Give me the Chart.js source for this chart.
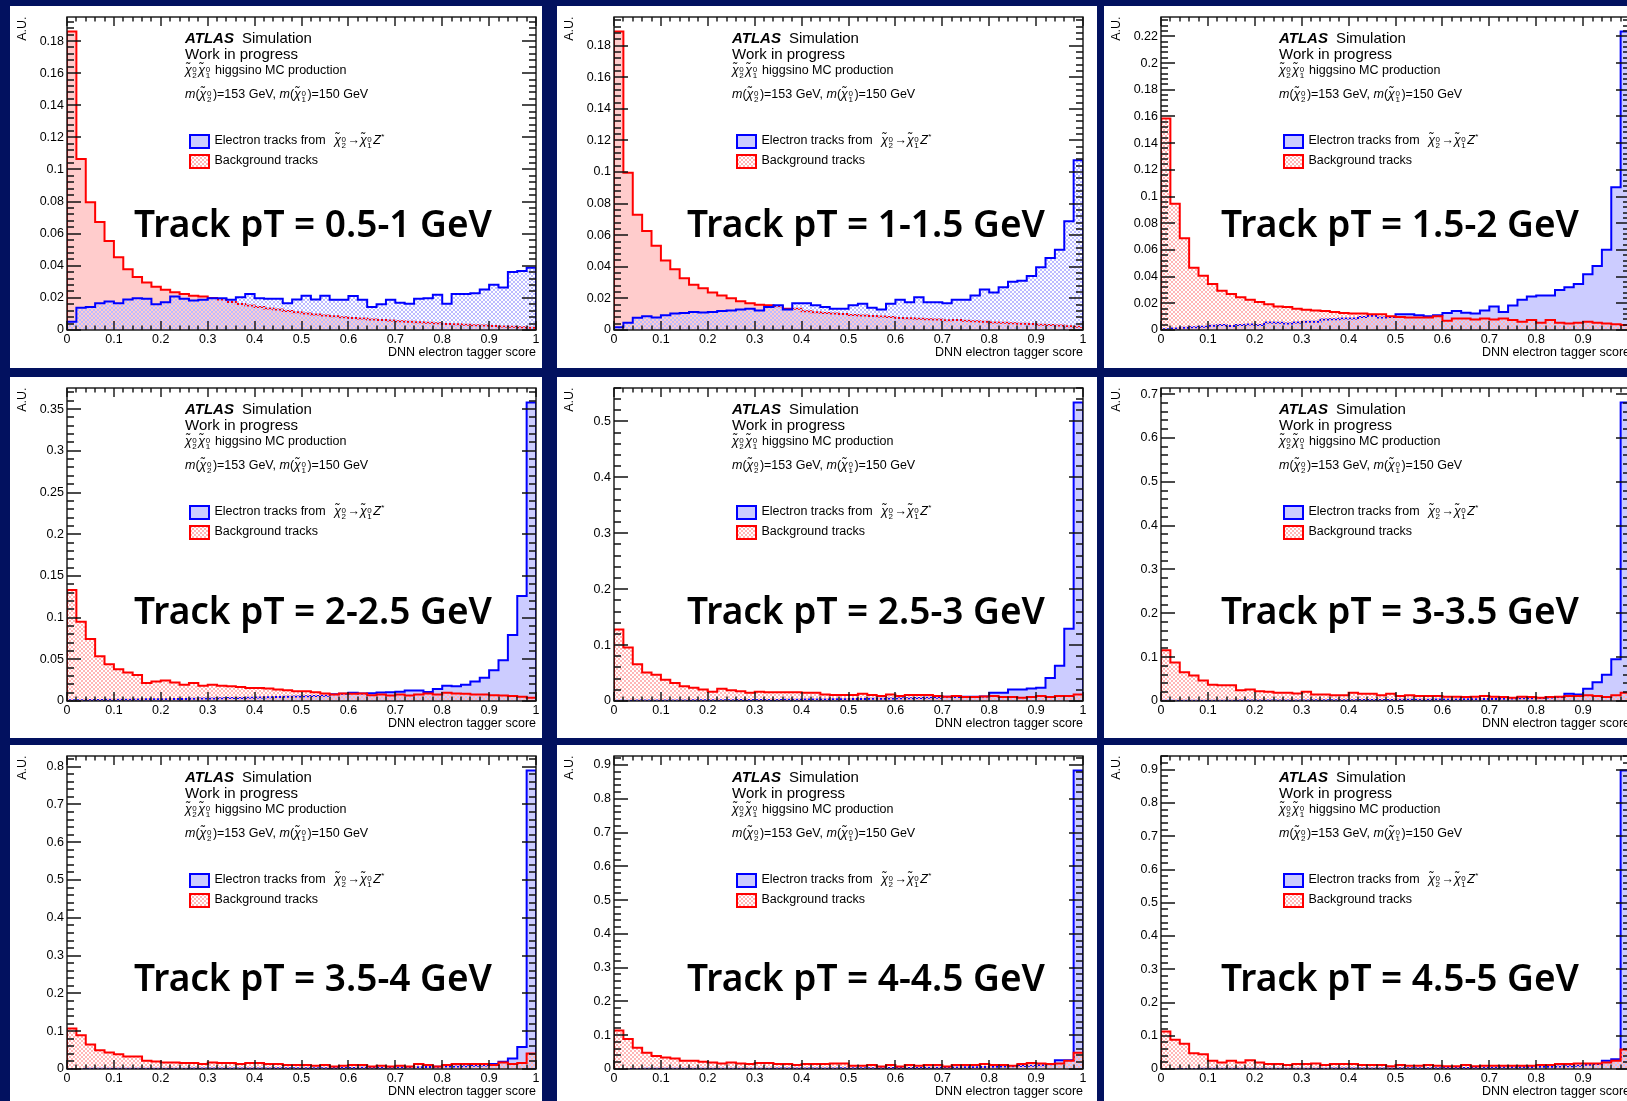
<!DOCTYPE html>
<html>
<head>
<meta charset="utf-8">
<script src="https://cdn.jsdelivr.net/npm/chart.js@4.4.0/dist/chart.umd.min.js"></script>
<style>
  html, body { margin: 0; padding: 0; }
  body { width: 1627px; height: 1101px; overflow: hidden; position: relative; background: #02115f;
         font-family: "Liberation Sans", Arial, Helvetica, sans-serif; }
  .panel { position: absolute; background: #fff; overflow: hidden; }
  .panel canvas { position: absolute; left: 0; top: 0; }
  .txt { position: absolute; white-space: nowrap; line-height: 1; color: #000; }
  .chi { font-style: italic; }
  .sup, .sub { font-size: 8px; position: relative; }
  .sup { top: -2.8px; margin-left: 0.5px; }
  .sub { top: 3.3px; margin-left: -4.45px; margin-right: 1.5px; }
  .swatch { position: absolute; box-sizing: border-box; border: 2px solid; }
  .big { position: absolute; white-space: nowrap; line-height: 1; font-family: "Noto Sans", sans-serif;
         font-weight: 600; font-size: 37px; color: #000; transform: translateX(-50%); }
</style>
</head>
<body>
<script>
// track pT slices, one panel per slice
const ptSlices = ['0.5-1', '1-1.5', '1.5-2', '2-2.5', '2.5-3', '3-3.5', '3.5-4', '4-4.5', '4.5-5'];
// spacing of the labelled y ticks in each panel
const yTickSteps = [0.02, 0.02, 0.02, 0.05, 0.1, 0.1, 0.1, 0.1, 0.1];

// normalised DNN score distributions, 50 bins of 0.02 from 0 to 1
const sig_0p5_1 = [0.0051, 0.0139, 0.0143, 0.0167, 0.0178, 0.0167, 0.0190, 0.0198, 0.0194, 0.0160,
  0.0173, 0.0208, 0.0194, 0.0184, 0.0188, 0.0198, 0.0198, 0.0188, 0.0204, 0.0224,
  0.0198, 0.0194, 0.0194, 0.0167, 0.0190, 0.0214, 0.0190, 0.0214, 0.0188, 0.0188,
  0.0212, 0.0188, 0.0143, 0.0160, 0.0188, 0.0170, 0.0163, 0.0194, 0.0198, 0.0220,
  0.0163, 0.0224, 0.0224, 0.0229, 0.0253, 0.0282, 0.0265, 0.0362, 0.0367, 0.0388];
const bkg_0p5_1 = [0.186, 0.1065, 0.0796, 0.0673, 0.0555, 0.0453, 0.0378, 0.0330, 0.0296, 0.0270,
  0.0250, 0.0235, 0.0224, 0.0214, 0.0208, 0.0200, 0.0190, 0.0175, 0.0162, 0.0152,
  0.0143, 0.0134, 0.0127, 0.0119, 0.0111, 0.0103, 0.0097, 0.0090, 0.0086, 0.0080,
  0.0075, 0.0071, 0.0066, 0.0063, 0.0059, 0.0055, 0.0052, 0.0048, 0.0045, 0.0042,
  0.0038, 0.0036, 0.0033, 0.0030, 0.0028, 0.0025, 0.0022, 0.0020, 0.0017, 0.0014];

const sig_1_1p5 = [0.0017, 0.0046, 0.0077, 0.0087, 0.0079, 0.0093, 0.0104, 0.0108, 0.0114, 0.0110,
  0.0114, 0.0120, 0.0124, 0.0129, 0.0135, 0.0124, 0.0145, 0.0156, 0.0129, 0.0170,
  0.0170, 0.0156, 0.0145, 0.0135, 0.0135, 0.0156, 0.0166, 0.0141, 0.0129, 0.0166,
  0.0191, 0.0176, 0.0207, 0.0176, 0.0176, 0.0170, 0.0191, 0.0191, 0.0218, 0.0257,
  0.0238, 0.0270, 0.0305, 0.0311, 0.0342, 0.0398, 0.0456, 0.0508, 0.0689, 0.1074];
const bkg_1_1p5 = [0.189, 0.0995, 0.0730, 0.0626, 0.0533, 0.0440, 0.0384, 0.0328, 0.0286, 0.0265,
  0.0238, 0.0218, 0.0201, 0.0182, 0.0170, 0.0160, 0.0156, 0.0150, 0.0135, 0.0135,
  0.0118, 0.0112, 0.0108, 0.0104, 0.0101, 0.0095, 0.0092, 0.0088, 0.0085, 0.0082,
  0.0076, 0.0074, 0.0071, 0.0068, 0.0066, 0.0062, 0.0063, 0.0058, 0.0055, 0.0052,
  0.0048, 0.0046, 0.0043, 0.0040, 0.0038, 0.0034, 0.0031, 0.0028, 0.0024, 0.0021];

const sig_1p5_2 = [0.0005, 0.0012, 0.0017, 0.0020, 0.0025, 0.0032, 0.0037, 0.0030, 0.0037, 0.0042,
  0.0037, 0.0057, 0.0054, 0.0049, 0.0057, 0.0061, 0.0061, 0.0079, 0.0081, 0.0086,
  0.0086, 0.0098, 0.0106, 0.0093, 0.0098, 0.0118, 0.0118, 0.0110, 0.0103, 0.0110,
  0.0128, 0.0143, 0.0130, 0.0123, 0.0147, 0.0177, 0.0135, 0.0184, 0.0226, 0.0251,
  0.0258, 0.0258, 0.0300, 0.0320, 0.0344, 0.0418, 0.0479, 0.0602, 0.1070, 0.2237];
const bkg_1p5_2 = [0.1585, 0.0946, 0.0688, 0.0467, 0.0406, 0.0344, 0.0295, 0.0270, 0.0246, 0.0226,
  0.0209, 0.0192, 0.0177, 0.0172, 0.0160, 0.0152, 0.0147, 0.0143, 0.0135, 0.0128,
  0.0123, 0.0123, 0.0118, 0.0118, 0.0103, 0.0098, 0.0093, 0.0093, 0.0093, 0.0103,
  0.0069, 0.0086, 0.0086, 0.0079, 0.0086, 0.0079, 0.0086, 0.0074, 0.0061, 0.0074,
  0.0054, 0.0074, 0.0054, 0.0049, 0.0054, 0.0061, 0.0054, 0.0049, 0.0044, 0.0037];

const sig_2_2p5 = [0.0008, 0.0010, 0.0012, 0.0012, 0.0014, 0.0016, 0.0016, 0.0018, 0.0020, 0.0020,
  0.0022, 0.0024, 0.0024, 0.0027, 0.0029, 0.0030, 0.0033, 0.0035, 0.0037, 0.0039,
  0.0043, 0.0045, 0.0047, 0.0050, 0.0055, 0.0057, 0.0060, 0.0062, 0.0082, 0.0086,
  0.0098, 0.0090, 0.0094, 0.0102, 0.0106, 0.0110, 0.0125, 0.0125, 0.0109, 0.0145,
  0.0184, 0.0176, 0.0196, 0.0235, 0.0280, 0.0370, 0.0490, 0.0790, 0.1260, 0.3580];
const bkg_2_2p5 = [0.133, 0.0951, 0.0744, 0.0536, 0.0442, 0.0380, 0.0341, 0.0313, 0.0215, 0.0235,
  0.0247, 0.0223, 0.0196, 0.0215, 0.0184, 0.0196, 0.0184, 0.0176, 0.0168, 0.0157,
  0.0157, 0.0149, 0.0137, 0.0129, 0.0117, 0.0117, 0.0106, 0.0090, 0.0078, 0.0090,
  0.0086, 0.0090, 0.0070, 0.0078, 0.0067, 0.0078, 0.0067, 0.0078, 0.0090, 0.0078,
  0.0098, 0.0090, 0.0086, 0.0078, 0.0078, 0.0070, 0.0067, 0.0059, 0.0051, 0.0039];

const sig_2p5_3 = [0.0005, 0.0006, 0.0007, 0.0008, 0.0009, 0.0010, 0.0010, 0.0011, 0.0012, 0.0012,
  0.0013, 0.0014, 0.0015, 0.0016, 0.0017, 0.0018, 0.0019, 0.0020, 0.0022, 0.0023,
  0.0025, 0.0026, 0.0028, 0.0030, 0.0032, 0.0034, 0.0036, 0.0039, 0.0041, 0.0044,
  0.0047, 0.0050, 0.0053, 0.0057, 0.0060, 0.0076, 0.0070, 0.0076, 0.0076, 0.0082,
  0.0147, 0.0147, 0.0205, 0.0205, 0.0225, 0.0235, 0.0410, 0.0630, 0.1290, 0.5340];
const bkg_2p5_3 = [0.128, 0.0957, 0.0657, 0.0510, 0.0470, 0.0381, 0.0323, 0.0264, 0.0235, 0.0205,
  0.0164, 0.0217, 0.0194, 0.0176, 0.0147, 0.0164, 0.0158, 0.0158, 0.0158, 0.0158,
  0.0147, 0.0147, 0.0117, 0.0106, 0.0106, 0.0106, 0.0129, 0.0106, 0.0088, 0.0117,
  0.0088, 0.0106, 0.0106, 0.0106, 0.0088, 0.0076, 0.0088, 0.0070, 0.0070, 0.0082,
  0.0088, 0.0070, 0.0070, 0.0059, 0.0070, 0.0088, 0.0070, 0.0088, 0.0088, 0.0117];

const sig_3_3p5 = [0.0003, 0.0004, 0.0005, 0.0005, 0.0006, 0.0007, 0.0007, 0.0008, 0.0009, 0.0009,
  0.0010, 0.0011, 0.0012, 0.0012, 0.0013, 0.0014, 0.0015, 0.0016, 0.0017, 0.0018,
  0.0019, 0.0020, 0.0021, 0.0023, 0.0024, 0.0026, 0.0027, 0.0029, 0.0031, 0.0033,
  0.0035, 0.0037, 0.0040, 0.0042, 0.0045, 0.0048, 0.0052, 0.0056, 0.0060, 0.0064,
  0.0070, 0.0078, 0.0090, 0.0164, 0.0149, 0.0280, 0.0430, 0.0600, 0.0950, 0.681];
const bkg_3_3p5 = [0.116, 0.0880, 0.0657, 0.0583, 0.0470, 0.0373, 0.0358, 0.0358, 0.0246, 0.0261,
  0.0224, 0.0209, 0.0187, 0.0187, 0.0172, 0.0209, 0.0149, 0.0149, 0.0134, 0.0134,
  0.0187, 0.0164, 0.0164, 0.0134, 0.0164, 0.0112, 0.0134, 0.0112, 0.0112, 0.0112,
  0.0097, 0.0097, 0.0090, 0.0097, 0.0112, 0.0097, 0.0090, 0.0075, 0.0097, 0.0090,
  0.0075, 0.0090, 0.0097, 0.0112, 0.0112, 0.0134, 0.0112, 0.0090, 0.0134, 0.0187];

const sig_3p5_4 = [0.0003, 0.0003, 0.0004, 0.0004, 0.0005, 0.0005, 0.0006, 0.0006, 0.0007, 0.0007,
  0.0008, 0.0008, 0.0009, 0.0010, 0.0010, 0.0011, 0.0012, 0.0013, 0.0013, 0.0014,
  0.0015, 0.0016, 0.0017, 0.0018, 0.0019, 0.0021, 0.0022, 0.0023, 0.0025, 0.0027,
  0.0029, 0.0031, 0.0033, 0.0036, 0.0039, 0.0042, 0.0045, 0.0049, 0.0053, 0.0058,
  0.0063, 0.0069, 0.0076, 0.0083, 0.0092, 0.0130, 0.0190, 0.0280, 0.0580, 0.790];
const bkg_3p5_4 = [0.107, 0.0894, 0.0651, 0.0495, 0.0434, 0.0391, 0.0330, 0.0330, 0.0217, 0.0200,
  0.0174, 0.0174, 0.0156, 0.0156, 0.0130, 0.0174, 0.0156, 0.0156, 0.0130, 0.0156,
  0.0156, 0.0130, 0.0130, 0.0104, 0.0104, 0.0104, 0.0087, 0.0104, 0.0069, 0.0087,
  0.0104, 0.0104, 0.0069, 0.0087, 0.0069, 0.0087, 0.0069, 0.0130, 0.0104, 0.0069,
  0.0104, 0.0130, 0.0130, 0.0130, 0.0130, 0.0104, 0.0174, 0.0130, 0.0156, 0.0408];

const sig_4_4p5 = [0.0002, 0.0003, 0.0003, 0.0004, 0.0004, 0.0005, 0.0005, 0.0006, 0.0006, 0.0007,
  0.0007, 0.0008, 0.0008, 0.0009, 0.0010, 0.0010, 0.0011, 0.0012, 0.0013, 0.0014,
  0.0015, 0.0016, 0.0017, 0.0018, 0.0019, 0.0020, 0.0022, 0.0023, 0.0025, 0.0027,
  0.0029, 0.0031, 0.0033, 0.0036, 0.0039, 0.0042, 0.0046, 0.0050, 0.0055, 0.0060,
  0.0066, 0.0072, 0.0079, 0.0086, 0.0094, 0.0110, 0.0140, 0.0260, 0.0260, 0.884];
const bkg_4_4p5 = [0.114, 0.0889, 0.0628, 0.0483, 0.0386, 0.0338, 0.0309, 0.0242, 0.0242, 0.0213,
  0.0193, 0.0164, 0.0193, 0.0164, 0.0145, 0.0174, 0.0174, 0.0145, 0.0145, 0.0116,
  0.0145, 0.0145, 0.0145, 0.0164, 0.0164, 0.0097, 0.0097, 0.0116, 0.0077, 0.0116,
  0.0077, 0.0116, 0.0097, 0.0116, 0.0116, 0.0077, 0.0116, 0.0116, 0.0116, 0.0145,
  0.0116, 0.0116, 0.0097, 0.0145, 0.0174, 0.0164, 0.0145, 0.0164, 0.0242, 0.0483];

const sig_4p5_5 = [0.0002, 0.0002, 0.0003, 0.0003, 0.0004, 0.0004, 0.0005, 0.0005, 0.0006, 0.0006,
  0.0007, 0.0007, 0.0008, 0.0008, 0.0009, 0.0010, 0.0010, 0.0011, 0.0012, 0.0013,
  0.0014, 0.0015, 0.0016, 0.0017, 0.0018, 0.0019, 0.0021, 0.0022, 0.0024, 0.0026,
  0.0028, 0.0030, 0.0032, 0.0035, 0.0038, 0.0041, 0.0045, 0.0049, 0.0054, 0.0059,
  0.0065, 0.0071, 0.0078, 0.0086, 0.0095, 0.0125, 0.0150, 0.0245, 0.0290, 0.898];
const bkg_4p5_5 = [0.113, 0.0883, 0.0756, 0.0471, 0.0442, 0.0245, 0.0196, 0.0245, 0.0196, 0.0265,
  0.0196, 0.0147, 0.0147, 0.0118, 0.0147, 0.0147, 0.0167, 0.0118, 0.0147, 0.0147,
  0.0147, 0.0118, 0.0118, 0.0118, 0.0079, 0.0118, 0.0098, 0.0098, 0.0118, 0.0098,
  0.0079, 0.0079, 0.0118, 0.0079, 0.0098, 0.0098, 0.0098, 0.0098, 0.0098, 0.0098,
  0.0118, 0.0118, 0.0147, 0.0147, 0.0167, 0.0167, 0.0167, 0.0196, 0.0245, 0.0589];

const signalBins = [sig_0p5_1, sig_1_1p5, sig_1p5_2, sig_2_2p5, sig_2p5_3, sig_3_3p5, sig_3p5_4, sig_4_4p5, sig_4p5_5];
const backgroundBins = [bkg_0p5_1, bkg_1_1p5, bkg_1p5_2, bkg_2_2p5, bkg_2p5_3, bkg_3_3p5, bkg_3p5_4, bkg_4_4p5, bkg_4p5_5];

// page layout: 3x3 grid of white slide panels
const colLeft = [10, 557, 1104], colWidth = [532, 540, 540];
const rowTop = [6, 377, 745], rowHeight = [362, 361, 362];
const bigCenterX = [303, 309, 296], bigCenterY = [218, 234, 232.5];

Chart.defaults.font.family = '"Liberation Sans", Arial, Helvetica, sans-serif';
Chart.defaults.color = '#000';
const axisFont = { size: 12.5 };
const fmt = v => String(+Number(v).toFixed(3));

// small crosshatch tile used for the hatched fills
function hatchTile(color) {
  const c = document.createElement('canvas');
  c.width = c.height = 4;
  const g = c.getContext('2d');
  g.fillStyle = color;
  for (let i = 0; i < 4; i++) { g.fillRect(i, i, 1, 1); g.fillRect(3 - i, i, 1, 1); }
  return c;
}
const redTile = hatchTile('rgb(255,182,182)');
const blueTile = hatchTile('rgb(188,188,255)');

// histogram outline as step points on the bin low edges
function steps(vals) {
  const pts = [{ x: 0, y: 0 }];
  vals.forEach((v, i) => pts.push({ x: i / vals.length, y: v }));
  pts.push({ x: 1, y: 0 });
  return pts;
}

// ROOT-like frame: box on all four sides with inward major/minor ticks
const rootFrame = {
  id: 'rootFrame',
  afterDatasetsDraw(chart) {
    const { ctx, chartArea: a, scales: { x, y } } = chart;
    const L = Math.round(a.left), R = Math.round(a.right);
    const T = Math.round(a.top), B = Math.round(a.bottom);
    ctx.save();
    ctx.strokeStyle = '#111';
    ctx.lineWidth = 1.4;
    ctx.beginPath();
    for (let i = 0; i <= 50; i++) {
      const px = Math.round(x.getPixelForValue(i / 50));
      const len = i % 5 ? 4.5 : 9;
      ctx.moveTo(px, B); ctx.lineTo(px, B - len);
      ctx.moveTo(px, T); ctx.lineTo(px, T + len);
    }
    const minor = y.options.ticks.stepSize / 5;
    for (let k = 0; k * minor <= y.max + 1e-9; k++) {
      const py = Math.round(y.getPixelForValue(k * minor));
      const len = k % 5 ? 7 : 14;
      ctx.moveTo(L, py); ctx.lineTo(L + len, py);
      ctx.moveTo(R, py); ctx.lineTo(R - len, py);
    }
    ctx.stroke();
    ctx.strokeRect(L, T, R - L, B - T);
    ctx.restore();
  }
};

function drawChart(canvas, k) {
  const ctx = canvas.getContext('2d');
  const sig = signalBins[k], bkg = backgroundBins[k];
  const sigOnTop = k < 2;
  const yMax = 1.05 * Math.max(...sig, ...bkg);
  new Chart(canvas, {
    type: 'line',
    data: {
      datasets: [
        { label: 'Electron tracks', data: steps(sig), borderColor: '#0000ff',
          backgroundColor: sigOnTop ? ctx.createPattern(blueTile, 'repeat') : 'rgba(0,0,255,0.2)',
          order: sigOnTop ? 0 : 1 },
        { label: 'Background tracks', data: steps(bkg), borderColor: '#ff0000',
          backgroundColor: sigOnTop ? 'rgba(255,0,0,0.2)' : ctx.createPattern(redTile, 'repeat'),
          order: sigOnTop ? 1 : 0 }
      ]
    },
    options: {
      responsive: false, animation: false, events: [],
      layout: { autoPadding: false, padding: { left: 0, top: 6.5, right: 5.5, bottom: 0 } },
      plugins: { legend: { display: false }, tooltip: { enabled: false } },
      datasets: { line: { fill: 'origin', stepped: true, borderWidth: 2, pointRadius: 0 } },
      scales: {
        x: {
          type: 'linear', min: 0, max: 1,
          grid: { display: false, drawTicks: false }, border: { display: false },
          ticks: { stepSize: 0.1, autoSkip: false, maxRotation: 0, padding: 2.5, font: axisFont, callback: fmt },
          title: { display: true, text: 'DNN electron tagger score', align: 'end', font: axisFont,
                   padding: { top: 0, bottom: 7.5 } },
          afterFit: s => { s.height = 38; }
        },
        y: {
          type: 'linear', min: 0, max: yMax,
          grid: { display: false, drawTicks: false }, border: { display: false },
          ticks: { stepSize: yTickSteps[k], includeBounds: false, padding: 3, font: axisFont, callback: fmt },
          title: { display: true, text: 'A.U.', align: 'end', font: axisFont, padding: { top: 5, bottom: 0 } },
          afterFit: s => { s.width = 57; }
        }
      }
    },
    plugins: [rootFrame]
  });
}

// text helpers (Liberation Sans baseline sits 0.8465em below the top with line-height 1)
function textAt(parent, html, left, baseline, size) {
  const d = document.createElement('div');
  d.className = 'txt';
  d.style.left = left + 'px';
  d.style.top = (baseline - 0.8465 * size) + 'px';
  d.style.fontSize = size + 'px';
  d.innerHTML = html;
  parent.appendChild(d);
}
const chi = (up, low) => `<span class="chi">&chi;&#771;</span><span class="sup">${up}</span><span class="sub">${low}</span>`;

function swatch(parent, top, height, color, fill) {
  const s = document.createElement('div');
  s.className = 'swatch';
  Object.assign(s.style, { left: '179px', top: top + 'px', width: '21px', height: height + 'px', borderColor: color });
  if (fill) s.style.backgroundColor = fill;
  else s.style.backgroundImage = `url(${redTile.toDataURL()})`;
  parent.appendChild(s);
}

ptSlices.forEach((slice, k) => {
  const r = Math.floor(k / 3), c = k % 3;
  const panel = document.createElement('div');
  panel.className = 'panel';
  Object.assign(panel.style, { left: colLeft[c] + 'px', top: rowTop[r] + 'px',
    width: colWidth[c] + 'px', height: rowHeight[r] + 'px' });
  const canvas = document.createElement('canvas');
  canvas.width = 532; canvas.height = 362;
  panel.appendChild(canvas);
  document.body.appendChild(panel);
  drawChart(canvas, k);

  textAt(panel, '<b><i>ATLAS</i></b><span style="margin-left:8px">Simulation</span>', 175, 36.7, 15);
  textAt(panel, 'Work in progress', 175, 52.8, 15);
  textAt(panel, `${chi(0, 2)}${chi(0, 1)} higgsino MC production`, 175, 69, 12.5);
  textAt(panel, `<i>m</i>(${chi(0, 2)})=153 GeV, <i>m</i>(${chi(0, 1)})=150 GeV`, 175, 93, 12.5);

  swatch(panel, 128, 14.5, '#0000ff', 'rgb(204,204,255)');
  swatch(panel, 147.5, 15, '#ff0000', null);
  textAt(panel, `Electron tracks from <span style="margin-left:5px">${chi(0, 2)}&rarr;${chi(0, 1)}<i>Z</i><span class="sup" style="top:-5px">*</span></span>`, 204.5, 139, 12.5);
  textAt(panel, 'Background tracks', 204.5, 159, 12.5);

  const big = document.createElement('div');
  big.className = 'big';
  big.textContent = `Track pT = ${slice} GeV`;
  big.style.left = bigCenterX[c] + 'px';
  big.style.top = (bigCenterY[r] - 0.531 * 37) + 'px';
  panel.appendChild(big);
});
</script>
</body>
</html>
